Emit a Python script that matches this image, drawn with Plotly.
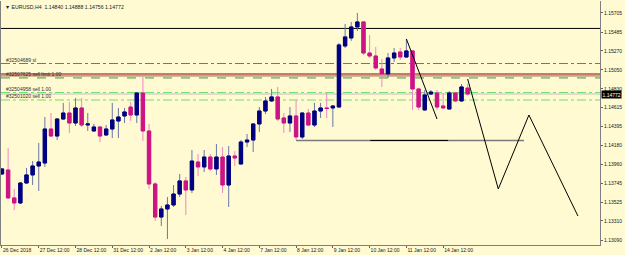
import numpy as np
import plotly.graph_objects as go

# ---------------- data (EURUSD H4) ----------------
bar_index = list(range(77))
opens = [1.13851, 1.13897, 1.13575, 1.13517, 1.13747, 1.13840, 1.13943, 1.13977, 1.14369, 1.14288,
         1.14484, 1.14553, 1.14438, 1.14611, 1.14415, 1.14346, 1.14392, 1.14300, 1.14369, 1.14461,
         1.14519, 1.14622, 1.14530, 1.14784, 1.14346, 1.13736, 1.13355, 1.13448, 1.13494, 1.13620,
         1.13771, 1.13667, 1.13989, 1.13932, 1.14046, 1.13909, 1.14046, 1.13724, 1.14058, 1.13966,
         1.14219, 1.14242, 1.14427, 1.14576, 1.14692, 1.14738, 1.14496, 1.14438, 1.14519, 1.14277,
         1.14553, 1.14415, 1.14576, 1.14611, 1.14611, 1.14622, 1.15325, 1.15417, 1.15544, 1.15602,
         1.15244, 1.15210, 1.15060, 1.15003, 1.15187, 1.15256, 1.15198, 1.15268, 1.14830, 1.14588,
         1.14772, 1.14784, 1.14634, 1.14599, 1.14784, 1.14692, 1.14840]
highs = [1.13920, 1.14150, 1.13678, 1.13758, 1.13920, 1.14000, 1.14208, 1.14507, 1.14553, 1.14496,
         1.14669, 1.14680, 1.14726, 1.14726, 1.14553, 1.14427, 1.14404, 1.14415, 1.14669, 1.14611,
         1.14611, 1.14680, 1.14795, 1.14968, 1.14427, 1.13758, 1.13482, 1.13586, 1.13724, 1.13851,
         1.13817, 1.14127, 1.14081, 1.14127, 1.14081, 1.14196, 1.14161, 1.14173, 1.14115, 1.14242,
         1.14311, 1.14432, 1.14622, 1.14738, 1.14830, 1.14853, 1.14553, 1.14622, 1.14703, 1.14558,
         1.14599, 1.14669, 1.14669, 1.14784, 1.14645, 1.15360, 1.15579, 1.15602, 1.15705, 1.15610,
         1.15452, 1.15314, 1.15175, 1.15244, 1.15302, 1.15302, 1.15406, 1.15275, 1.14835, 1.14818,
         1.14818, 1.14818, 1.14784, 1.14807, 1.14795, 1.14887, 1.14888]
lows = [1.13840, 1.13563, 1.13436, 1.13505, 1.13736, 1.13724, 1.13655, 1.13932, 1.14277, 1.14242,
        1.14473, 1.14323, 1.14404, 1.14392, 1.14346, 1.14340, 1.14219, 1.14288, 1.14265, 1.14265,
        1.14438, 1.14461, 1.14438, 1.14231, 1.13678, 1.13309, 1.13252, 1.13102, 1.13471, 1.13586,
        1.13378, 1.13632, 1.13828, 1.13874, 1.13886, 1.13840, 1.13632, 1.13471, 1.13943, 1.13960,
        1.14161, 1.14104, 1.14334, 1.14542, 1.14680, 1.14461, 1.14323, 1.14334, 1.14242, 1.14254,
        1.14404, 1.14392, 1.14496, 1.14496, 1.14392, 1.14618, 1.15302, 1.15383, 1.15498, 1.15221,
        1.15187, 1.15049, 1.14853, 1.14957, 1.15141, 1.15164, 1.15187, 1.14588, 1.14588, 1.14583,
        1.14761, 1.14588, 1.14599, 1.14594, 1.14680, 1.14680, 1.14756]
closes = [1.13909, 1.13575, 1.13517, 1.13747, 1.13840, 1.13943, 1.13989, 1.14369, 1.14288, 1.14484,
          1.14553, 1.14438, 1.14611, 1.14415, 1.14427, 1.14392, 1.14288, 1.14369, 1.14473, 1.14507,
          1.14565, 1.14530, 1.14784, 1.14346, 1.13736, 1.13355, 1.13448, 1.13494, 1.13620, 1.13771,
          1.13667, 1.14000, 1.13932, 1.14046, 1.13909, 1.14046, 1.13724, 1.14058, 1.14035, 1.14219,
          1.14242, 1.14427, 1.14576, 1.14692, 1.14738, 1.14484, 1.14438, 1.14519, 1.14277, 1.14553,
          1.14415, 1.14576, 1.14611, 1.14605, 1.14634, 1.15337, 1.15429, 1.15544, 1.15602, 1.15244,
          1.15210, 1.15072, 1.15003, 1.15187, 1.15244, 1.15198, 1.15268, 1.14830, 1.14622, 1.14761,
          1.14795, 1.14622, 1.14611, 1.14784, 1.14692, 1.14853, 1.14772]

tick_bars = [0, 6, 12, 18, 24, 30, 36, 42, 48, 54, 60, 66, 72]
tick_labels = ["26 Dec 2018", "27 Dec 12:00", "28 Dec 12:00", "31 Dec 12:00", "2 Jan 12:00",
               "3 Jan 12:00", "4 Jan 12:00", "7 Jan 12:00", "8 Jan 12:00", "9 Jan 12:00",
               "10 Jan 12:00", "11 Jan 12:00", "14 Jan 12:00"]
price_ticks = [1.15705, 1.15485, 1.15270, 1.15050, 1.14830, 1.14615, 1.14395,
               1.14180, 1.13960, 1.13745, 1.13525, 1.13310, 1.13090]

# zigzag projection lines
zig1_x = [66, 71]
zig1_y = [1.15406, 1.14484]
zig2_x = [76, 81, 86, 94]
zig2_y = [1.14945, 1.13678, 1.14530, 1.13367]

# horizontal levels
resistance_level = 1.15527
support_level = 1.14237
support_gray_x = [48, 85.2]
support_black_x = [60.1, 72.8]
order_levels = [
    # price, color, dash, width, label
    (1.15123, "#ff3b30", "dashdot", 1, "#32504689 sl"),
    (1.15003, "#b4504a", "solid", 1.6, None),
    (1.14980, "#8c6a4c", "solid", 1, None),
    (1.14957, "#3f9a3a", "dash", 1, "#32507625 sell limit 1.00"),
    (1.14789, "#6ee06e", "dashdot", 1, "#32504958 sell 1.00"),
    (1.14703, "#6ee06e", "dashdot", 1, "#32501020 sell 1.00"),
]
bid_price = 1.14772
header = "▼ EURUSD,H4  1.14840 1.14888 1.14756 1.14772"

# ---------------- figure ----------------
BG = "#fffad2"
BULL_BODY, BEAR_BODY = "#000080", "#cc1485"
BULL_WICK, BEAR_WICK = "#6a76a8", "#ee88c0"
FONT = "Liberation Sans"

o = np.array(opens); c = np.array(closes)
body_hi = np.maximum(o, c)
body_lo = np.minimum(o, c)

fig = go.Figure()

for price, col, dash, w, lab in order_levels:
    fig.add_shape(type="line", xref="paper", x0=0, x1=1, yref="y", y0=price, y1=price,
                  line=dict(color=col, width=w, dash=dash), layer="below")
fig.add_shape(type="line", xref="paper", x0=0, x1=1, yref="y", y0=bid_price, y1=bid_price,
              line=dict(color="#c0c0c0", width=1), layer="below")
fig.add_shape(type="line", xref="paper", x0=0, x1=1, yref="y", y0=resistance_level,
              y1=resistance_level, line=dict(color="#000000", width=1), layer="below")

fig.add_trace(go.Scatter(x=support_gray_x, y=[support_level] * 2, mode="lines",
                         line=dict(color="#7a7a7a", width=1.6), hoverinfo="skip"))
fig.add_trace(go.Scatter(x=support_black_x, y=[support_level] * 2, mode="lines",
                         line=dict(color="#000000", width=1), hoverinfo="skip"))

# wicks
fig.add_trace(go.Candlestick(
    x=bar_index, open=opens, high=highs, low=lows, close=closes,
    increasing=dict(line=dict(color=BULL_WICK, width=1), fillcolor=BULL_BODY),
    decreasing=dict(line=dict(color=BEAR_WICK, width=1), fillcolor=BEAR_BODY),
    hoverinfo="skip", whiskerwidth=0))
# bodies
fig.add_trace(go.Candlestick(
    x=bar_index, open=opens, high=body_hi, low=body_lo, close=closes,
    increasing=dict(line=dict(color=BULL_BODY, width=1), fillcolor=BULL_BODY),
    decreasing=dict(line=dict(color=BEAR_BODY, width=1), fillcolor=BEAR_BODY),
    hoverinfo="skip", whiskerwidth=0))

# zigzag
fig.add_trace(go.Scatter(x=zig1_x, y=zig1_y, mode="lines",
                         line=dict(color="#000000", width=1), hoverinfo="skip"))
fig.add_trace(go.Scatter(x=zig2_x, y=zig2_y, mode="lines",
                         line=dict(color="#000000", width=1), hoverinfo="skip"))

for price, col, dash, w, lab in order_levels:
    if lab:
        fig.add_annotation(text=lab, xref="paper", x=0, xanchor="left", xshift=3,
                           yref="y", y=price, yanchor="bottom", yshift=-1, showarrow=False,
                           font=dict(family=FONT, size=5, color="#303030"))
fig.add_annotation(text=header, xref="paper", x=0, xanchor="left", xshift=2,
                   yref="paper", y=1, yanchor="top", yshift=-1, showarrow=False,
                   font=dict(family=FONT, size=5.2, color="#202020"))
fig.add_annotation(text=f"{bid_price:.5f}", xref="paper", x=1, xanchor="left", xshift=1,
                   yref="y", y=bid_price, yanchor="middle", showarrow=False,
                   bgcolor="#000000", borderpad=0.5,
                   font=dict(family=FONT, size=5, color="#ffffff"))

fig.update_layout(
    width=625, height=255,
    margin=dict(l=1, r=25, t=1, b=10, autoexpand=False),
    paper_bgcolor=BG, plot_bgcolor=BG,
    showlegend=False,
    boxgap=0.22, boxgroupgap=0.3,
    font=dict(family=FONT, size=5, color="#202020"),
    xaxis=dict(range=[-0.16, 97.6], rangeslider=dict(visible=False), automargin=False,
               tickvals=tick_bars, ticktext=tick_labels, ticklabelposition="outside right",
               tickangle=0, ticks="outside", ticklen=2, tickcolor="#606060",
               showgrid=False, zeroline=False,
               showline=True, linecolor="#808080", linewidth=1,
               tickfont=dict(family=FONT, size=5, color="#202020")),
    yaxis=dict(range=[1.13033, 1.15843], side="right", tickvals=price_ticks, automargin=False,
               ticktext=[f"{v:.5f}" for v in price_ticks],
               ticks="outside", ticklen=2, tickcolor="#606060", showgrid=False, zeroline=False,
               showline=True, linecolor="#808080", linewidth=1, mirror=True,
               tickfont=dict(family=FONT, size=5, color="#202020")),
)

fig.write_html("out.html")
